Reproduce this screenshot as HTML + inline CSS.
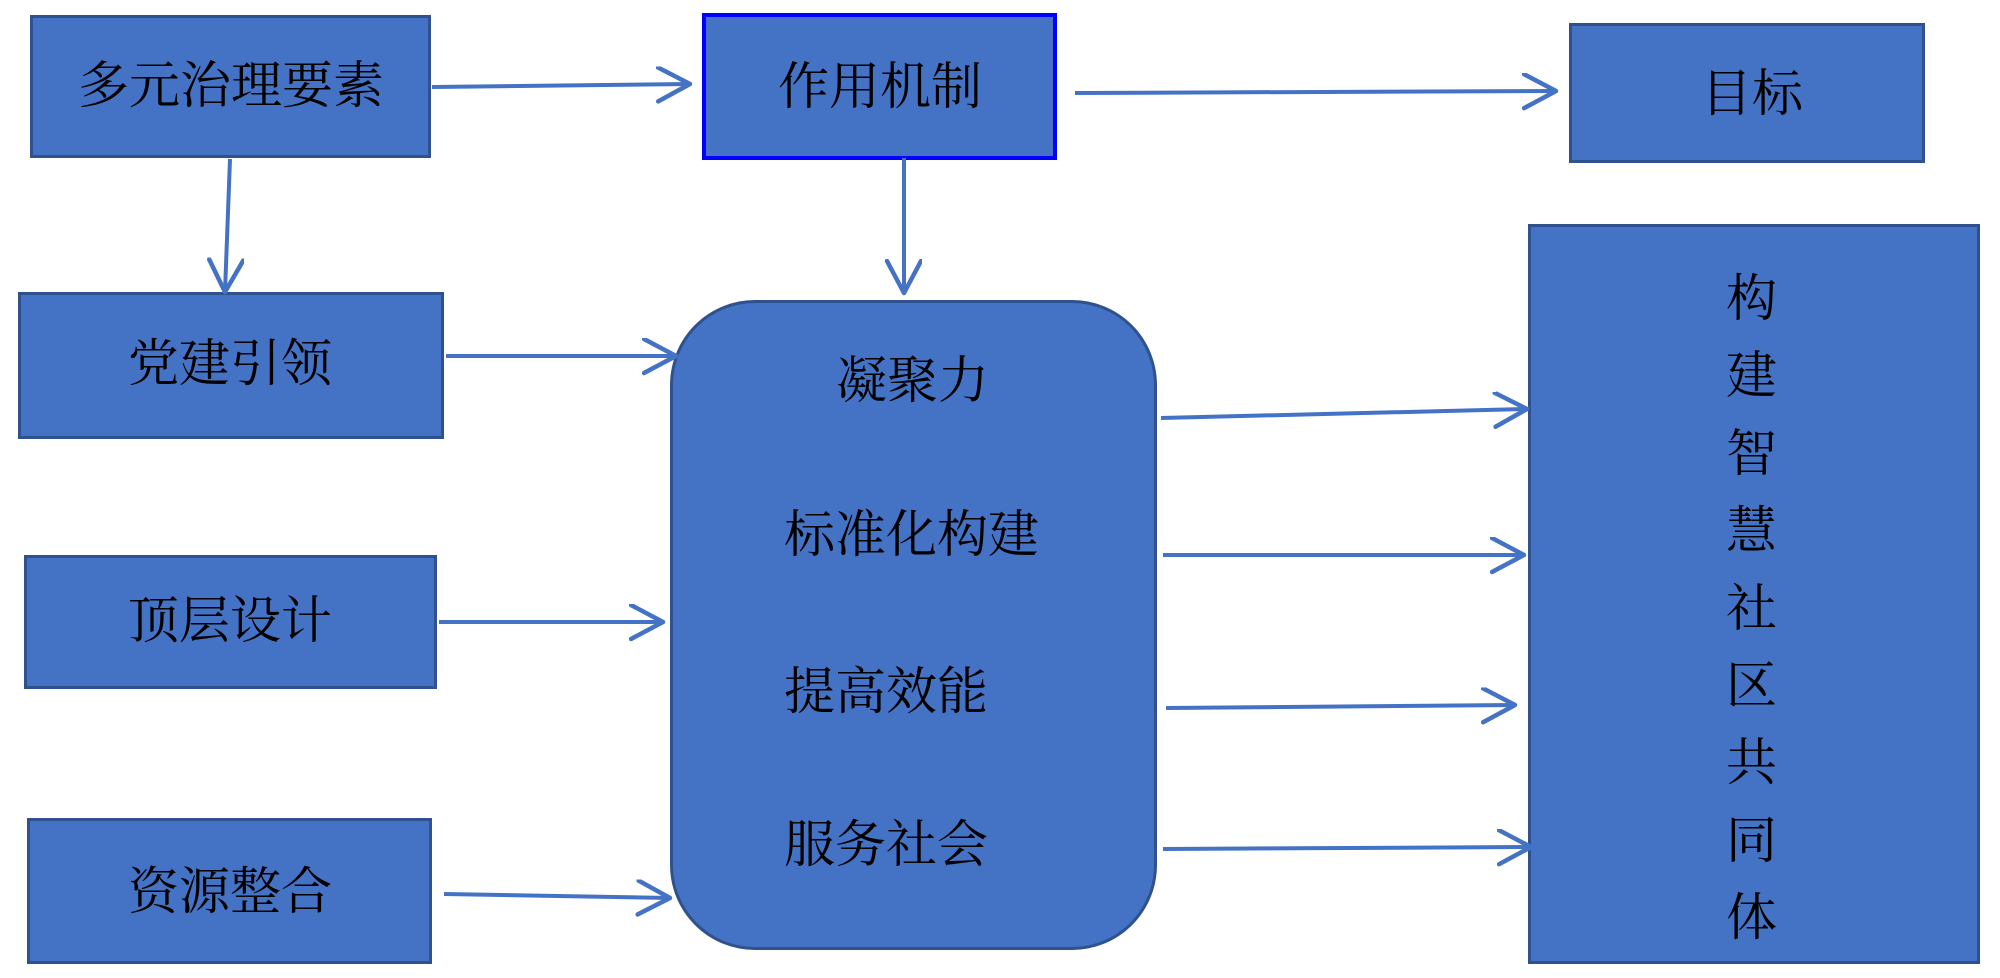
<!DOCTYPE html>
<html><head><meta charset="utf-8"><style>
html,body{margin:0;padding:0;background:#fff;}
body{width:2000px;height:978px;position:relative;overflow:hidden;font-family:"Liberation Serif","Noto Serif CJK SC",serif;}
.b{position:absolute;box-sizing:border-box;background:#4472C4;border:3px solid #2F528F;}
.t{position:absolute;font-size:51px;line-height:1;color:#000;white-space:nowrap;}
svg{position:absolute;left:0;top:0;}
</style></head><body>
<div class="b" style="left:30px;top:15px;width:401px;height:143px"></div>
<div class="b" style="left:702px;top:13px;width:355px;height:147px;border:4px solid #0000FF"></div>
<div class="b" style="left:1569px;top:23px;width:356px;height:140px"></div>
<div class="b" style="left:18px;top:292px;width:426px;height:147px"></div>
<div class="b" style="left:24px;top:555px;width:413px;height:134px"></div>
<div class="b" style="left:27px;top:818px;width:405px;height:146px"></div>
<div class="b" style="left:670px;top:300px;width:487px;height:650px;border-radius:85px"></div>
<div class="b" style="left:1528px;top:224px;width:452px;height:740px"></div>

<div class="t" style="left:78px;top:62px">多元治理要素</div>
<div class="t" style="left:778px;top:63px">作用机制</div>
<div class="t" style="left:1701px;top:70px">目标</div>
<div class="t" style="left:128px;top:340px">党建引领</div>
<div class="t" style="left:128px;top:597px">顶层设计</div>
<div class="t" style="left:128px;top:868px">资源整合</div>
<div class="t" style="left:836px;top:357px">凝聚力</div>
<div class="t" style="left:784px;top:511px">标准化构建</div>
<div class="t" style="left:784px;top:668px">提高效能</div>
<div class="t" style="left:784px;top:821px">服务社会</div>
<div class="t" style="left:1726px;top:262px;line-height:77.4px;width:51px;white-space:normal">构建智慧社区共同体</div>

<svg width="2000" height="978" viewBox="0 0 2000 978">
<defs><marker id="a" markerWidth="40" markerHeight="40" refX="34" refY="18" orient="auto" markerUnits="userSpaceOnUse">
<path d="M2,1 L34,18 L2,35" fill="none" stroke="#4472C4" stroke-width="4.5" stroke-linecap="round" stroke-linejoin="round"/></marker></defs>
<g stroke="#4472C4" stroke-width="4" fill="none" marker-end="url(#a)">
<line x1="432" y1="87" x2="690" y2="84"/>
<line x1="1075" y1="93" x2="1556" y2="91"/>
<line x1="230" y1="159" x2="225" y2="292"/>
<line x1="904" y1="158" x2="904" y2="293"/>
<line x1="446" y1="356" x2="676" y2="356"/>
<line x1="439" y1="622" x2="663" y2="622"/>
<line x1="444" y1="894" x2="670" y2="898"/>
<line x1="1161" y1="418" x2="1527" y2="409"/>
<line x1="1163" y1="555" x2="1524" y2="555"/>
<line x1="1166" y1="708" x2="1515" y2="705"/>
<line x1="1163" y1="849" x2="1531" y2="847"/>
</g></svg>
</body></html>
